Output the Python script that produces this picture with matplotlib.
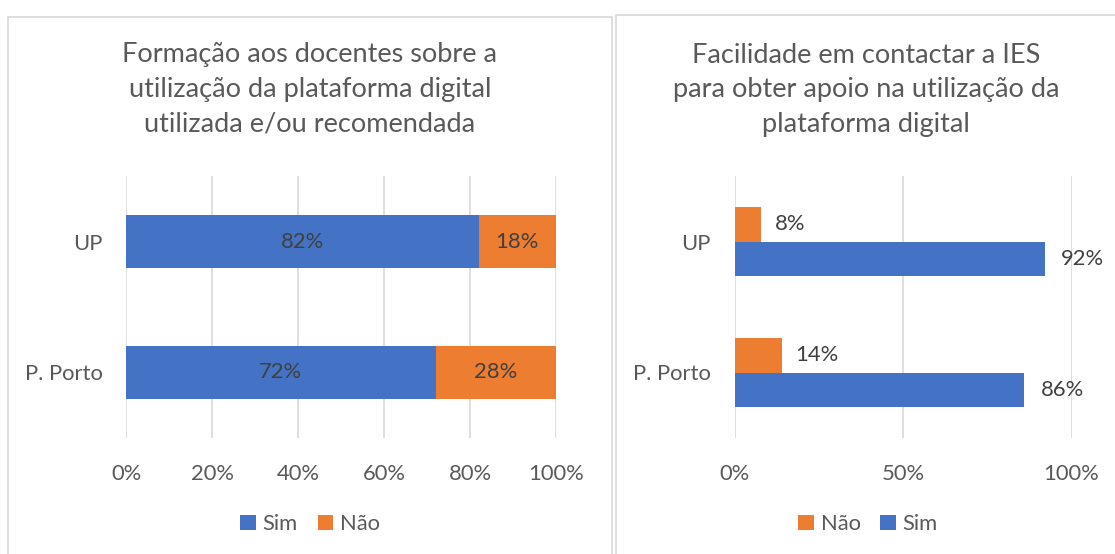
import matplotlib.pyplot as plt
from matplotlib.patches import Rectangle
import numpy as np

plt.rcParams['font.family'] = ['Lato', 'DejaVu Sans']

# data
categories = ['P. Porto', 'UP']
left_sim = [72, 82]
left_nao = [28, 18]
right_sim = [86, 92]
right_nao = [14, 8]

left_title = 'Formação aos docentes sobre a\nutilização da plataforma digital\nutilizada e/ou recomendada'
right_title = 'Facilidade em contactar a IES\npara obter apoio na utilização da\nplataforma digital'

BLUE = '#4472C4'
ORANGE = '#ED7D31'
GRID = '#D9D9D9'
TXT = '#595959'
LBL = '#404040'
FS = 15.8

W, H = 1115, 554
fig = plt.figure(figsize=(W / 100, H / 100), dpi=100)

# panel borders
fig.add_artist(Rectangle((8 / W, -0.05), 604 / W, 1.05 - 17 / H, transform=fig.transFigure,
                         fill=False, edgecolor=GRID, lw=1.2))
fig.add_artist(Rectangle((616 / W, -0.05), 520 / W, 1.05 - 15 / H, transform=fig.transFigure,
                         fill=False, edgecolor=GRID, lw=1.2))


def style_axes(ax, ticks):
    ax.set_xlim(0, 100)
    ax.set_ylim(-0.5, 1.5)
    ax.set_xticks(ticks)
    ax.set_xticklabels([f'{t}%' for t in ticks])
    ax.set_yticks(np.arange(len(categories)))
    ax.set_yticklabels(categories)
    for s in ax.spines.values():
        s.set_visible(False)
    ax.grid(axis='x', color=GRID, lw=1.2)
    ax.set_axisbelow(True)
    ax.tick_params(axis='x', length=0, pad=19, labelsize=FS, labelcolor=TXT)
    ax.tick_params(axis='y', length=0, pad=17, labelsize=FS, labelcolor=TXT)


# left chart: stacked
ax1 = fig.add_axes([126 / W, 1 - 438 / H, 430 / W, 262 / H])
y = np.arange(len(categories))
b1 = ax1.barh(y, left_sim, height=0.4, color=BLUE, label='Sim')
b2 = ax1.barh(y, left_nao, left=left_sim, height=0.4, color=ORANGE, label='Não')
ax1.bar_label(b1, labels=[f'{v}%' for v in left_sim], label_type='center', color=LBL, fontsize=FS)
ax1.bar_label(b2, labels=[f'{v}%' for v in left_nao], label_type='center', color=LBL, fontsize=FS)
style_axes(ax1, [0, 20, 40, 60, 80, 100])

# right chart: clustered
ax2 = fig.add_axes([734.5 / W, 1 - 438 / H, 337 / W, 262 / H])
h = 0.267
r1 = ax2.barh(y + h / 2, right_nao, height=h, color=ORANGE, label='Não')
r2 = ax2.barh(y - h / 2, right_sim, height=h, color=BLUE, label='Sim')
ax2.bar_label(r1, labels=[f'{v}%' for v in right_nao], padding=10, color=LBL, fontsize=FS)
ax2.bar_label(r2, labels=[f'{v}%' for v in right_sim], padding=12, color=LBL, fontsize=FS)
style_axes(ax2, [0, 50, 100])

# titles
fig.text(310 / W, 1 - 89 / H, left_title, ha='center', va='center', multialignment='center',
         fontsize=19.5, color=TXT, linespacing=1.48)
fig.text(866 / W, 1 - 90 / H, right_title, ha='center', va='center', multialignment='center',
         fontsize=19.5, color=TXT, linespacing=1.48)

# legends
leg_kw = dict(loc='center', ncol=2, frameon=False, fontsize=FS, handlelength=0.72, handleheight=0.72,
              handletextpad=0.3, columnspacing=0.9, labelcolor=TXT)
fig.legend(handles=[b1, b2], bbox_to_anchor=(310 / W, 1 - 524 / H), **leg_kw)
fig.legend(handles=[r1, r2], bbox_to_anchor=(868 / W, 1 - 524 / H), **leg_kw)

fig.savefig('out.png', dpi=100)
